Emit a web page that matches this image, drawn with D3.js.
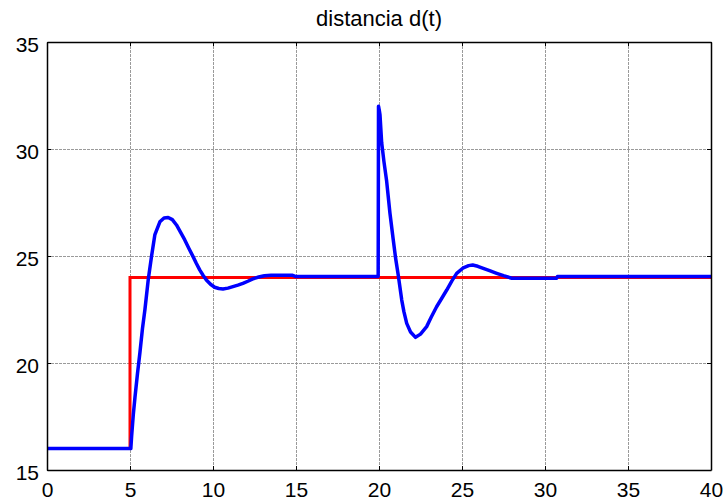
<!DOCTYPE html>
<html>
<head>
<meta charset="utf-8">
<script src="https://cdn.jsdelivr.net/npm/d3@7"></script>
<style>
  html, body { margin: 0; padding: 0; background: #fff; }
  svg { display: block; font-family: "Liberation Sans", Arial, sans-serif; }
</style>
</head>
<body>
<svg id="chart" width="726" height="502"></svg>
<script>
// reference signal (red)
const refT = [0, 5, 5, 40];
const refD = [16, 16, 24, 24];

// measured distance (blue)
const distT = [0, 5.05, 5.1, 5.2, 5.3, 5.45, 5.6, 5.75, 5.9, 6.1, 6.3, 6.5, 6.8, 7.05, 7.3, 7.55,
  7.8, 8.05, 8.3, 8.55, 8.8, 9.0, 9.2, 9.4, 9.6, 9.85, 10.1, 10.35, 10.6, 10.9, 11.2, 11.5,
  11.8, 12.1, 12.4, 12.75, 13.1, 13.5, 14.8, 15.0, 19.95, 19.97, 20.02, 20.06, 20.16, 20.3,
  20.46, 20.66, 20.86, 21.0, 21.16, 21.37, 21.5, 21.67, 21.9, 22.2, 22.5, 22.87, 23.15, 23.47,
  23.8, 24.08, 24.4, 24.68, 25.08, 25.4, 25.64, 25.95, 26.28, 26.7, 27.09, 27.5, 28.0, 30.7,
  30.75, 40];
const distD = [16, 16, 16.6, 17.6, 18.4, 19.5, 20.5, 21.6, 22.5, 23.9, 25.0, 26.0, 26.6, 26.78, 26.8, 26.7,
  26.45, 26.1, 25.75, 25.35, 24.97, 24.65, 24.35, 24.1, 23.88, 23.68, 23.54, 23.48, 23.46, 23.5, 23.57, 23.64,
  23.72, 23.82, 23.93, 24.02, 24.08, 24.1, 24.1, 24.04, 24.04, 32.0, 31.8, 31.6, 30.3, 29.4,
  28.5, 27.0, 25.75, 24.9, 24.1, 22.94, 22.4, 21.85, 21.45, 21.2, 21.35, 21.7, 22.15, 22.63,
  23.05, 23.41, 23.85, 24.19, 24.45, 24.55, 24.58, 24.52, 24.42, 24.3, 24.19, 24.08, 23.96, 23.96,
  24.04, 24.04];

const xTicks = [0, 5, 10, 15, 20, 25, 30, 35, 40];
const yTicks = [15, 20, 25, 30, 35];
const title = "distancia d(t)";

const margins = { left: 47, right: 15, top: 42, bottom: 32 };
const width = 726, height = 502;

const svg = d3.select("#chart");

const x = d3.scaleLinear().domain([0, 40]).range([margins.left, width - margins.right]);
const y = d3.scaleLinear().domain([15, 35]).range([height - margins.bottom, margins.top]);

// grid
const grid = svg.append("g").attr("stroke", "#9a9a9a").attr("stroke-width", 1)
  .attr("stroke-dasharray", "3,1");
grid.selectAll("line.gx").data(xTicks.slice(1, -1)).join("line")
  .attr("x1", (d) => Math.round(x(d)) + 0.5).attr("x2", (d) => Math.round(x(d)) + 0.5)
  .attr("y1", y(35)).attr("y2", y(15));
grid.selectAll("line.gy").data(yTicks.slice(1, -1)).join("line")
  .attr("y1", (d) => Math.round(y(d)) + 0.5).attr("y2", (d) => Math.round(y(d)) + 0.5)
  .attr("x1", x(0)).attr("x2", x(40));

// lines
const pts = (ts, ds) => ts.map((t, i) => [t, ds[i]]);
const line = d3.line().x((d) => x(d[0])).y((d) => y(d[1]));

svg.append("path").datum(pts(refT, refD))
  .attr("fill", "none").attr("stroke", "#ff0000").attr("stroke-width", 3)
  .attr("d", line);
svg.append("path").datum(pts(distT, distD))
  .attr("fill", "none").attr("stroke", "#0000ff").attr("stroke-width", 3.5)
  .attr("stroke-linejoin", "round")
  .attr("d", line);

// axes box with inward ticks
const bottomAxis = d3.axisBottom(x).tickValues(xTicks).tickSizeInner(-4).tickSizeOuter(0).tickPadding(11);
const leftAxis = d3.axisLeft(y).tickValues(yTicks).tickSizeInner(-4).tickSizeOuter(0).tickPadding(8);
const topAxis = d3.axisTop(x).tickValues(xTicks).tickSizeInner(-4).tickSizeOuter(0).tickFormat("");
const rightAxis = d3.axisRight(y).tickValues(yTicks).tickSizeInner(-4).tickSizeOuter(0).tickFormat("");

function styleAxis(g) {
  g.select(".domain").attr("stroke", "#000").attr("stroke-width", 1.5);
  g.selectAll(".tick line").attr("stroke", "#000").attr("stroke-width", 1);
  g.selectAll(".tick text").attr("fill", "#000").attr("font-size", "21px")
    .attr("font-family", "Liberation Sans, Arial, sans-serif");
}

svg.append("g").attr("transform", `translate(0, ${y(15)})`).call(bottomAxis).call(styleAxis)
  .selectAll(".tick text").attr("dy", "0.75em");
svg.append("g").attr("transform", `translate(${x(0)}, 0)`).call(leftAxis).call(styleAxis)
  .selectAll(".tick text").attr("dy", "0.45em");
svg.append("g").attr("transform", `translate(0, ${y(35)})`).call(topAxis).call(styleAxis);
svg.append("g").attr("transform", `translate(${x(40)}, 0)`).call(rightAxis).call(styleAxis);

// title
svg.append("text")
  .attr("x", (x(0) + x(40)) / 2).attr("y", 26)
  .attr("text-anchor", "middle").attr("font-size", "22px").attr("fill", "#000")
  .text(title);
</script>
</body>
</html>
